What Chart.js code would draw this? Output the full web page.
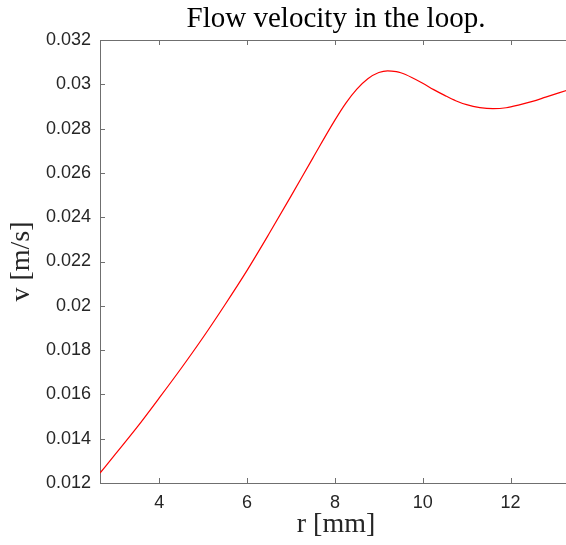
<!DOCTYPE html>
<html>
<head>
<meta charset="utf-8">
<script src="https://cdn.jsdelivr.net/npm/chart.js@4/dist/chart.umd.min.js"></script>
<style>
  html, body { margin: 0; padding: 0; background: #fff; overflow: hidden; }
  canvas { display: block; }
</style>
</head>
<body>
<canvas id="myChart" width="572" height="545"></canvas>
<script>
// radius [mm] and flow velocity [m/s]
const radius = [2.65, 3.0, 3.5, 4.0, 4.5, 5.0, 5.5, 6.0, 6.5, 7.0, 7.5, 8.0, 8.25, 8.5, 8.75, 9.0, 9.2, 9.4, 9.5, 9.75, 10.0, 10.25, 10.5, 10.75, 11.0, 11.3, 11.6, 11.9, 12.2, 12.5, 12.8, 13.1, 13.4];
const velocity = [0.01245, 0.0133, 0.01453, 0.01584, 0.01718, 0.01858, 0.02006, 0.0216, 0.02325, 0.02495, 0.02668, 0.02838, 0.02915, 0.02978, 0.03025, 0.03053, 0.03061, 0.03057, 0.03052, 0.03031, 0.03005, 0.02976, 0.0295, 0.02926, 0.02908, 0.02895, 0.0289, 0.02894, 0.02907, 0.02923, 0.02942, 0.02961, 0.0298];
const xTicks = [4, 6, 8, 10, 12];
const yTicks = [0.012, 0.014, 0.016, 0.018, 0.02, 0.022, 0.024, 0.026, 0.028, 0.03, 0.032];

const axisColor = '#6f6f6f';
const textColor = '#262626';
const serif = 'Liberation Serif';

// MATLAB style ticks pointing into the plot
const inwardTicks = {
    id: 'inwardTicks',
    afterDatasetsDraw(chart) {
        const ctx = chart.ctx;
        const area = chart.chartArea;
        const len = 5;
        ctx.save();
        ctx.strokeStyle = axisColor;
        ctx.lineWidth = 1;
        ctx.beginPath();
        xTicks.forEach(t => {
            const px = Math.round(chart.scales.x.getPixelForValue(t)) + 0.5;
            ctx.moveTo(px, area.bottom);
            ctx.lineTo(px, area.bottom - len);
            ctx.moveTo(px, area.top);
            ctx.lineTo(px, area.top + len);
        });
        yTicks.forEach(t => {
            const py = Math.round(chart.scales.y.getPixelForValue(t)) + 0.5;
            ctx.moveTo(area.left, py);
            ctx.lineTo(area.left + len, py);
            ctx.moveTo(area.right, py);
            ctx.lineTo(area.right - len, py);
        });
        ctx.stroke();
        ctx.restore();
    }
};

const ctx = document.getElementById('myChart').getContext('2d');
new Chart(ctx, {
    type: 'line',
    data: {
        datasets: [{
            label: 'v',
            data: radius.map((r, i) => ({ x: r, y: velocity[i] })),
            borderColor: '#ff0000',
            borderWidth: 1.2,
            pointRadius: 0,
            fill: false,
            cubicInterpolationMode: 'monotone'
        }]
    },
    options: {
        responsive: false,
        animation: false,
        layout: { padding: 0 },
        plugins: {
            legend: { display: false },
            tooltip: { enabled: false }
        },
        scales: {
            x: {
                type: 'linear',
                position: 'bottom',
                min: 2.65,
                max: 13.4,
                afterFit: s => { s.height = 62; },
                afterBuildTicks: s => { s.ticks = xTicks.map(v => ({ value: v })); },
                grid: { display: false, drawTicks: false },
                border: { display: true, color: axisColor, width: 1 },
                ticks: {
                    padding: 9,
                    color: textColor,
                    font: { family: 'Liberation Sans', size: 18 }
                },
                title: {
                    display: true,
                    text: 'r [mm]',
                    color: textColor,
                    font: { family: serif, size: 28 },
                    padding: { top: 0, bottom: 4 }
                }
            },
            x2: {
                type: 'linear',
                position: 'top',
                min: 2.65,
                max: 13.4,
                afterFit: s => { s.height = 40; },
                grid: { display: false, drawTicks: false },
                border: { display: true, color: axisColor, width: 1 },
                ticks: { display: false },
                title: {
                    display: true,
                    text: 'Flow velocity in the loop.',
                    color: '#000',
                    font: { family: serif, size: 29 },
                    padding: { top: 2, bottom: 0 }
                }
            },
            y: {
                type: 'linear',
                min: 0.012,
                max: 0.032,
                afterFit: s => { s.width = 100; },
                afterBuildTicks: s => { s.ticks = yTicks.map(v => ({ value: v })); },
                grid: { display: false, drawTicks: false },
                border: { display: true, color: axisColor, width: 1 },
                ticks: {
                    padding: 9,
                    color: textColor,
                    font: { family: 'Liberation Sans', size: 18 },
                    callback: v => String(+v.toFixed(3))
                },
                title: {
                    display: true,
                    text: 'v [m/s]',
                    color: textColor,
                    font: { family: serif, size: 28 },
                    padding: { top: 5, bottom: 0 }
                }
            }
        }
    },
    plugins: [inwardTicks]
});
</script>
</body>
</html>
